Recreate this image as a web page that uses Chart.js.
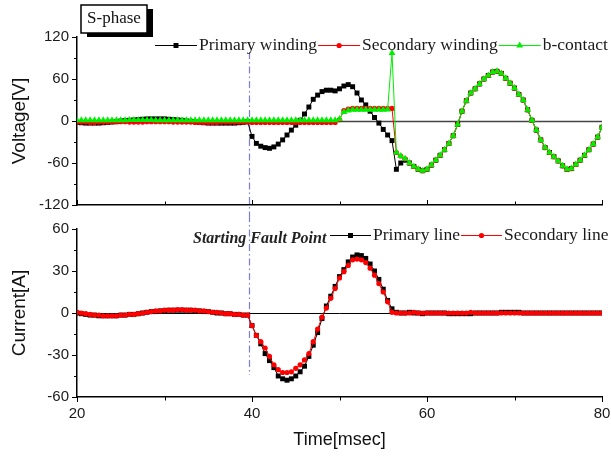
<!DOCTYPE html>
<html>
<head>
<meta charset="utf-8">
<script src="https://cdn.jsdelivr.net/npm/chart.js@4"></script>
<style>
  html, body { margin: 0; padding: 0; background: #fff; }
  #wrap { position: relative; width: 611px; height: 459px; }
  canvas { position: absolute; left: 0; }
  #chart-voltage { top: 0; }
  #chart-current { top: 215px; }
</style>
</head>
<body>
<div id="wrap">
  <canvas id="chart-voltage" width="611" height="215"></canvas>
  <canvas id="chart-current" width="611" height="244"></canvas>
</div>
<script>
// sampling grid, 0.5 ms from 20 to 80 ms
const TIME = Array.from({ length: 121 }, (_, i) => 20 + i * 0.5);
const FAULT_TIME = 39.6;

const X_LABELS = [20, 40, 60, 80];
const X_MINOR = [30, 50, 70];
const V_TICKS = [-120, -60, 0, 60, 120];
const V_MINOR = [-90, -30, 30, 90];
const I_TICKS = [-60, -30, 0, 30, 60];
const I_MINOR = [-45, -15, 15, 45];

// Voltage [V]
const V_PRIMARY = [
  -2, -2.5, -3, -3, -3, -3, -2.5, -2, -1.5, -1,
  0, 0.5, 1, 1.5, 2, 2.5, 3, 3, 3, 3,
  3, 2.5, 2, 1.5, 1, 0, -0.5, -1, -2, -2.5,
  -3, -3, -3, -3, -3, -3, -3, -2.5, -2, -1,
  -22, -32, -36, -38, -39, -37, -33, -27, -20, -13,
  -6, 1, 10, 20, 31, 37, 42, 44, 44, 43,
  46, 50, 52, 49, 40, 30, 23, 14, 5, -3,
  -12, -20, -28, -69, -60, -56,
  -60, -65, -69, -71, -69, -63, -56, -49, -41, -32,
  -21, -5, 14, 29, 40, 46, 53, 60, 65, 70,
  71, 68, 61, 54, 47, 38, 30, 16, 1, -13,
  -27, -38, -45, -51, -57, -64, -69, -68, -62, -56,
  -49, -41, -33, -23, -9
];
const V_SECONDARY = [
  -1.5, -1.5, -1.5, -2, -2, -1.5, -1.5, -1.5, -1, -1,
  -1, -1, -1.5, -1.5, -1.5, -1.5, -1, -1, -1, -1,
  -1, -1, -1.5, -1.5, -1.5, -1.5, -1.5, -2, -2, -2,
  -2, -2, -2, -1.5, -1.5, -1.5, -1.5, -1.5, -1.5, -1.5,
  -2, -2, -2, -2, -2, -2, -2, -2, -2, -2,
  -2, -2, -2, -2, -2, -2, -2, -2, -2, -2,
  2, 15, 17, 18, 18, 18, 18, 18, 18, 18,
  18, 18, 18, -45, -50, -54,
  -60, -65, -69, -71, -69, -63, -56, -49, -41, -32,
  -21, -5, 14, 29, 40, 46, 53, 60, 65, 70,
  71, 68, 61, 54, 47, 38, 30, 16, 1, -13,
  -27, -38, -45, -51, -57, -64, -69, -68, -62, -56,
  -49, -41, -33, -23, -9
];
const V_BCONTACT = [
  1, 1, 1, 1, 1, 1, 1, 1, 1, 1,
  1, 1, 1.5, 1.5, 1.5, 1.5, 1.5, 1.5, 1, 1,
  1, 1, 1, 1, 1, 1, 1, 1, 1, 1,
  1, 1, 1, 1, 1, 1, 1, 1, 1, 1,
  1, 1, 1, 1, 1, 1, 1, 1, 1, 1,
  1, 1, 1, 1, 1, 1, 1, 1, 1, 1,
  3, 13, 15, 16, 16, 16, 16, 16, 16, 16,
  16, 16.5, 97, -45, -50, -54,
  -60, -65, -69, -71, -69, -63, -56, -49, -41, -32,
  -21, -5, 14, 29, 40, 46, 53, 60, 65, 70,
  71, 68, 61, 54, 47, 38, 30, 16, 1, -13,
  -27, -38, -45, -51, -57, -64, -69, -68, -62, -56,
  -49, -41, -33, -23, -9
];

// Current [A]
const I_PRIMARY = [
  0, -0.5, -1, -1.5, -1.5, -2, -2, -2, -2, -2,
  -1.5, -1.5, -1, -1, -0.5, 0, 0.5, 1, 1, 1.5,
  1.5, 2, 2, 2, 2, 2, 2, 1.5, 1.5, 1,
  1, 0.5, 0, 0, -0.5, -0.5, -1, -1, -1.5, -1.5,
  -9, -16, -22, -29, -34, -39, -45, -47, -48, -47,
  -45, -42, -38, -31, -23, -14, -4, 5, 12, 19,
  26, 31, 36.5, 40, 41.5, 41, 39, 35, 30, 24,
  17, 9, 3, 0.5,
  0, 0, 0.5, 0, 0, -0.5, 0, 0, 0, 0,
  0, -0.5, -0.5, -0.5, -0.5, -0.5, -0.5, 0, 0, 0,
  0, 0, 0, 0.5, 0.5, 0.5, 0.5, 0.5, 0, 0,
  0, 0, 0, 0, 0, 0, 0, 0, 0, 0,
  0, 0, 0, 0, 0, 0, 0
];
const I_SECONDARY = [
  0.5, 0, -0.5, -1, -1.5, -1.5, -2, -2, -2, -2,
  -1.5, -1.5, -1, -1, -0.5, 0, 0.5, 1, 1.5, 1.5,
  2, 2, 2, 2.5, 2.5, 2, 2, 2, 1.5, 1.5,
  1, 0.5, 0.5, 0, -0.5, -0.5, -1, -1, -1.5, -1.5,
  -9, -16, -20.5, -25, -31, -37, -40.5, -42.5, -42.5, -42,
  -39.5, -37, -33.5, -29, -20.5, -11.5, -3, 3.5, 10.5, 17.5,
  25, 29.5, 34, 38, 38.5, 38, 36, 32, 27, 21,
  15, 8, 0.5, 0,
  0, 0, 0, 0.5, 0, 0, 0, 0, 0, 0,
  0, 0, 0, 0, 0, 0, 0.5, 0, 0, 0,
  0, 0, 0, 0, 0, 0, 0, 0, 0, 0,
  0, 0, 0, 0, 0, 0, 0, 0, 0, 0,
  0, 0, 0, 0, 0, 0, 0
];

const SANS = '"Liberation Sans", Arial, sans-serif';
const SERIF = '"Liberation Serif", "Times New Roman", serif';

const STYLE = {
  primary: { color: '#000000', pointStyle: 'rect', radius: 3.5 },
  secondary: { color: '#ff0000', pointStyle: 'circle', radius: 2.6 },
  bcontact: { color: '#00ee00', pointStyle: 'triangle', radius: 4 }
};

function series(values) {
  return TIME.map((t, i) => ({ x: t, y: values[i] }));
}

function dataset(label, values, style, order) {
  return {
    label,
    data: series(values),
    borderColor: style.color,
    backgroundColor: style.color,
    pointBackgroundColor: style.color,
    pointBorderWidth: 0,
    pointStyle: style.pointStyle,
    pointRadius: style.radius,
    borderWidth: 1,
    tension: 0,
    order
  };
}

function drawMarker(ctx, style, x, y) {
  ctx.fillStyle = style.color;
  ctx.beginPath();
  const r = style.radius;
  if (style.pointStyle === 'rect') {
    const s = r * Math.SQRT1_2;
    ctx.rect(x - s, y - s, 2 * s, 2 * s);
  } else if (style.pointStyle === 'triangle') {
    ctx.moveTo(x, y - r);
    ctx.lineTo(x + r * 0.866, y + r / 2);
    ctx.lineTo(x - r * 0.866, y + r / 2);
    ctx.closePath();
  } else {
    ctx.arc(x, y, r, 0, Math.PI * 2);
  }
  ctx.fill();
}

// legend drawn inside the plot: line - marker - line, then text
const lineLegend = {
  id: 'lineLegend',
  afterDraw(chart, args, opts) {
    const ctx = chart.ctx;
    ctx.save();
    ctx.font = opts.font;
    ctx.textBaseline = 'middle';
    ctx.textAlign = 'left';
    let x = opts.x;
    opts.items.forEach(item => {
      ctx.strokeStyle = item.style.color;
      ctx.lineWidth = 1;
      ctx.beginPath();
      ctx.moveTo(x, opts.y + 0.5);
      ctx.lineTo(x + opts.lineLen, opts.y + 0.5);
      ctx.stroke();
      drawMarker(ctx, item.style, x + opts.lineLen / 2, opts.y + 0.5);
      x += opts.lineLen + 2;
      ctx.fillStyle = '#1a1a1a';
      ctx.fillText(item.text, x, opts.y);
      x += ctx.measureText(item.text).width + 1;
    });
    ctx.restore();
  }
};

// zero line, fault marker, tick marks, notes
const decor = {
  id: 'decor',
  beforeDatasetsDraw(chart, args, opts) {
    const { ctx, chartArea: a, scales: { x, y } } = chart;
    ctx.save();
    const y0 = Math.round(y.getPixelForValue(0)) + 0.5;
    ctx.strokeStyle = opts.zeroColor;
    ctx.lineWidth = opts.zeroWidth;
    ctx.beginPath();
    ctx.moveTo(a.left, y0);
    ctx.lineTo(a.right, y0);
    ctx.stroke();

    const fx = Math.round(x.getPixelForValue(FAULT_TIME)) + 0.5;
    ctx.strokeStyle = '#7d7de0';
    ctx.lineWidth = 1.2;
    ctx.setLineDash([7, 3, 1.5, 3]);
    ctx.beginPath();
    ctx.moveTo(fx, opts.faultFrom);
    ctx.lineTo(fx, opts.faultTo);
    ctx.stroke();
    ctx.restore();
  },
  afterDraw(chart, args, opts) {
    const { ctx, chartArea: a, scales: { x, y } } = chart;
    ctx.save();
    ctx.strokeStyle = '#000';
    ctx.lineWidth = 1;
    ctx.beginPath();
    const xt = (v, len) => {
      const px = Math.round(x.getPixelForValue(v)) + 0.5;
      ctx.moveTo(px, a.bottom);
      ctx.lineTo(px, a.bottom + len);
    };
    const yt = (v, len) => {
      const py = Math.round(y.getPixelForValue(v)) + 0.5;
      ctx.moveTo(a.left, py);
      ctx.lineTo(a.left - len, py);
    };
    X_LABELS.forEach(v => xt(v, opts.xDir * 5));
    X_MINOR.forEach(v => xt(v, opts.xDir * 3.5));
    opts.yMajor.forEach(v => yt(v, 5));
    opts.yMinor.forEach(v => yt(v, 3));
    ctx.stroke();

    if (opts.box) {
      const b = opts.box;
      ctx.fillStyle = '#000';
      ctx.fillRect(b.x + 6, b.y + 4, b.w, b.h);
      ctx.fillStyle = '#fff';
      ctx.fillRect(b.x, b.y, b.w, b.h);
      ctx.lineWidth = 1.5;
      ctx.strokeRect(b.x, b.y, b.w, b.h);
      ctx.fillStyle = '#111';
      ctx.font = '17px ' + SERIF;
      ctx.textAlign = 'center';
      ctx.textBaseline = 'middle';
      ctx.fillText(b.text, b.x + b.w / 2, b.y + b.h / 2);
    }
    if (opts.note) {
      ctx.fillStyle = '#222';
      ctx.font = 'italic bold 16px ' + SERIF;
      ctx.textAlign = 'left';
      ctx.textBaseline = 'middle';
      ctx.fillText(opts.note.text, opts.note.x, opts.note.y);
    }
    ctx.restore();
  }
};

function yScale(min, max, step, title) {
  return {
    min, max,
    afterFit(s) {
      s.width = 77;
      s.paddingTop = 0;
      s.paddingBottom = 0;
    },
    ticks: { stepSize: step, padding: 8, color: '#1a1a1a', font: { family: SANS, size: 15 } },
    grid: { display: false, drawTicks: false },
    border: { display: true, color: '#000', width: 1.5 },
    title: {
      display: true, text: title, color: '#111',
      font: { family: SANS, size: 19 },
      padding: { top: 8, bottom: 0 }
    }
  };
}

function xScale(height, showLabels) {
  return {
    type: 'linear', min: 20, max: 80,
    afterFit(s) {
      s.height = height;
      s.paddingLeft = 0;
      s.paddingRight = 0;
    },
    afterBuildTicks(s) { s.ticks = X_LABELS.map(v => ({ value: v })); },
    ticks: { display: showLabels, padding: 8, color: '#1a1a1a', font: { family: SANS, size: 15 } },
    grid: { display: false, drawTicks: false },
    border: { display: true, color: '#000', width: 1.5 },
    title: {
      display: showLabels, text: 'Time[msec]', color: '#111',
      font: { family: SANS, size: 18 },
      padding: { top: 0, bottom: 8 }
    }
  };
}

const voltageChart = new Chart(document.getElementById('chart-voltage'), {
  type: 'line',
  data: {
    datasets: [
      dataset('Primary winding', V_PRIMARY, STYLE.primary, 3),
      dataset('Secondary winding', V_SECONDARY, STYLE.secondary, 2),
      dataset('b-contact', V_BCONTACT, STYLE.bcontact, 1)
    ]
  },
  plugins: [decor, lineLegend],
  options: {
    responsive: false,
    devicePixelRatio: 1,
    animation: false,
    events: [],
    layout: { padding: { top: 37, right: 9, left: 0, bottom: 0 } },
    scales: {
      x: xScale(10, false),
      y: yScale(-120, 120, 60, 'Voltage[V]')
    },
    plugins: {
      legend: { display: false },
      tooltip: { enabled: false },
      decor: {
        zeroColor: '#444', zeroWidth: 1.5,
        faultFrom: 52, faultTo: 215,
        xDir: -1, yMajor: V_TICKS, yMinor: V_MINOR,
        box: { x: 81, y: 5, w: 66, h: 28, text: 'S-phase' }
      },
      lineLegend: {
        x: 155, y: 45, lineLen: 42, font: '17.5px ' + SERIF,
        items: [
          { text: 'Primary winding', style: STYLE.primary },
          { text: 'Secondary winding', style: STYLE.secondary },
          { text: 'b-contact', style: STYLE.bcontact }
        ]
      }
    }
  }
});

const currentChart = new Chart(document.getElementById('chart-current'), {
  type: 'line',
  data: {
    datasets: [
      dataset('Primary line', I_PRIMARY, STYLE.primary, 2),
      dataset('Secondary line', I_SECONDARY, STYLE.secondary, 1)
    ]
  },
  plugins: [decor, lineLegend],
  options: {
    responsive: false,
    devicePixelRatio: 1,
    animation: false,
    events: [],
    layout: { padding: { top: 14, right: 9, left: 0, bottom: 0 } },
    scales: {
      x: xScale(62, true),
      y: yScale(-60, 60, 30, 'Current[A]')
    },
    plugins: {
      legend: { display: false },
      tooltip: { enabled: false },
      decor: {
        zeroColor: '#000', zeroWidth: 1,
        faultFrom: 0, faultTo: 160,
        xDir: 1, yMajor: I_TICKS, yMinor: I_MINOR,
        note: { text: 'Starting Fault Point', x: 193, y: 24 }
      },
      lineLegend: {
        x: 330, y: 20, lineLen: 41, font: '17.5px ' + SERIF,
        items: [
          { text: 'Primary line', style: STYLE.primary },
          { text: 'Secondary line', style: STYLE.secondary }
        ]
      }
    }
  }
});
</script>
</body>
</html>
